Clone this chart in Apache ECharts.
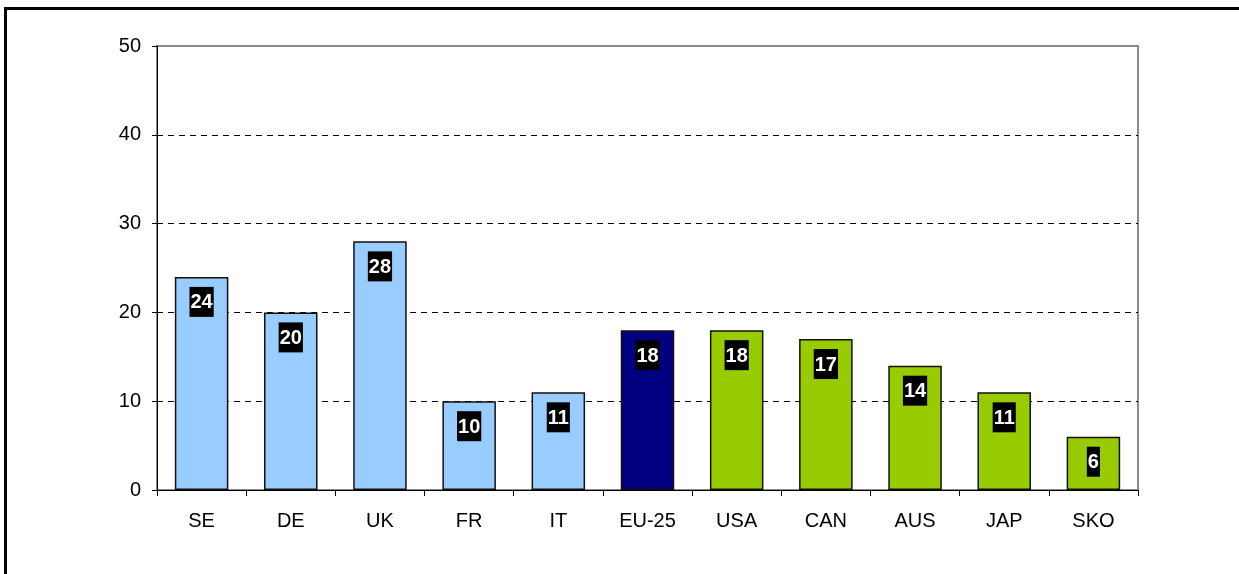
<!DOCTYPE html>
<html>
<head>
<meta charset="utf-8">
<script src="https://cdn.jsdelivr.net/npm/echarts@6/dist/echarts.min.js"></script>
<style>
  html, body { margin: 0; padding: 0; background: #fff; }
  #chart { width: 1239px; height: 574px; }
</style>
</head>
<body>
<div id="chart"></div>
<script>
// Country codes along the x axis
const categories = ['SE', 'DE', 'UK', 'FR', 'IT', 'EU-25', 'USA', 'CAN', 'AUS', 'JAP', 'SKO'];
// Value per country
const values = [24, 20, 28, 10, 11, 18, 18, 17, 14, 11, 6];
// Group of each country: EU member, EU aggregate, non-EU
const groups = ['eu', 'eu', 'eu', 'eu', 'eu', 'eu25', 'world', 'world', 'world', 'world', 'world'];
// Y axis range and step
const yTicks = [0, 10, 20, 30, 40, 50];

const groupColors = { eu: '#99CCFF', eu25: '#000080', world: '#99CC00' };
const font = '"Liberation Sans", Arial, sans-serif';

const chart = echarts.init(document.getElementById('chart'), null, { renderer: 'canvas' });

chart.setOption({
  backgroundColor: '#ffffff',
  animation: false,
  graphic: [{
    type: 'polyline',
    shape: { points: [[5.5, 600], [5.5, 8.5], [1245, 8.5]] },
    style: { stroke: '#000', lineWidth: 3, fill: null },
    z: 100
  }],
  grid: {
    left: 157, top: 46, right: 101, bottom: 84,
    show: true, borderColor: '#8a8a8a', borderWidth: 2, backgroundColor: 'transparent'
  },
  xAxis: {
    type: 'category',
    data: categories,
    axisLine: { lineStyle: { color: '#000', width: 1 } },
    axisTick: { show: true, alignWithLabel: false, length: 6, lineStyle: { color: '#000' } },
    axisLabel: { color: '#000', fontFamily: font, fontSize: 20, margin: 21 },
    splitLine: { show: false }
  },
  yAxis: {
    type: 'value',
    min: yTicks[0],
    max: yTicks[yTicks.length - 1],
    interval: yTicks[1] - yTicks[0],
    axisLine: { show: true, lineStyle: { color: '#000', width: 1 } },
    axisTick: { show: true, length: 5, lineStyle: { color: '#000' } },
    axisLabel: { color: '#000', fontFamily: font, fontSize: 20, margin: 16 },
    splitLine: {
      show: true, showMinLine: false, showMaxLine: false,
      lineStyle: { color: '#000', type: [6, 5], width: 1 }
    }
  },
  series: [{
    type: 'bar',
    data: values.map((v, i) => ({
      value: v,
      itemStyle: { color: groupColors[groups[i]] }
    })),
    barCategoryGap: '40%',
    itemStyle: { borderColor: '#111', borderWidth: 1.5 },
    label: {
      show: true,
      position: 'insideTop',
      distance: 10,
      color: '#fff',
      fontFamily: font,
      fontWeight: 'bold',
      fontSize: 20,
      lineHeight: 20,
      backgroundColor: '#000',
      padding: [6, 1, 4, 1]
    }
  }]
});
</script>
</body>
</html>
